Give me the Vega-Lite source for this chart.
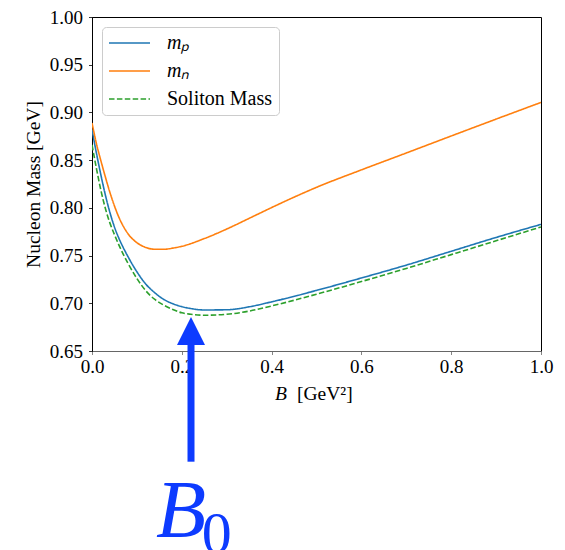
{
  "$schema": "https://vega.github.io/schema/vega-lite/v6.json",
  "autosize": {"type": "none"},
  "padding": {"left": 92, "top": 17, "right": 24, "bottom": 199},
  "width": 449,
  "height": 334,
  "config": {
    "view": {"stroke": "black", "strokeWidth": 1},
    "font": "Liberation Serif",
    "axis": {
      "grid": false,
      "labelFont": "Liberation Serif",
      "labelFontSize": 19,
      "labelColor": "black",
      "titleFont": "Liberation Serif",
      "titleFontSize": 19.5,
      "titleFontWeight": "normal",
      "titleColor": "black",
      "domainColor": "black",
      "tickColor": "black",
      "tickSize": 3.5,
      "tickWidth": 0.8
    }
  },
  "datasets": {
    "curves": [
      {"B": 0.00, "mass": 0.882, "series": "mₚ"},
      {"B": 0.01, "mass": 0.857, "series": "mₚ"},
      {"B": 0.02, "mass": 0.834, "series": "mₚ"},
      {"B": 0.03, "mass": 0.813, "series": "mₚ"},
      {"B": 0.04, "mass": 0.795, "series": "mₚ"},
      {"B": 0.05, "mass": 0.780, "series": "mₚ"},
      {"B": 0.06, "mass": 0.768, "series": "mₚ"},
      {"B": 0.07, "mass": 0.758, "series": "mₚ"},
      {"B": 0.08, "mass": 0.749, "series": "mₚ"},
      {"B": 0.10, "mass": 0.733, "series": "mₚ"},
      {"B": 0.12, "mass": 0.720, "series": "mₚ"},
      {"B": 0.14, "mass": 0.711, "series": "mₚ"},
      {"B": 0.16, "mass": 0.704, "series": "mₚ"},
      {"B": 0.18, "mass": 0.6995, "series": "mₚ"},
      {"B": 0.20, "mass": 0.6965, "series": "mₚ"},
      {"B": 0.22, "mass": 0.6945, "series": "mₚ"},
      {"B": 0.25, "mass": 0.693, "series": "mₚ"},
      {"B": 0.30, "mass": 0.6932, "series": "mₚ"},
      {"B": 0.35, "mass": 0.6963, "series": "mₚ"},
      {"B": 0.40, "mass": 0.7015, "series": "mₚ"},
      {"B": 0.50, "mass": 0.7135, "series": "mₚ"},
      {"B": 0.60, "mass": 0.7265, "series": "mₚ"},
      {"B": 0.70, "mass": 0.740, "series": "mₚ"},
      {"B": 0.80, "mass": 0.7545, "series": "mₚ"},
      {"B": 0.90, "mass": 0.769, "series": "mₚ"},
      {"B": 1.00, "mass": 0.7827, "series": "mₚ"},

      {"B": 0.00, "mass": 0.889, "series": "mₙ"},
      {"B": 0.01, "mass": 0.867, "series": "mₙ"},
      {"B": 0.02, "mass": 0.849, "series": "mₙ"},
      {"B": 0.03, "mass": 0.832, "series": "mₙ"},
      {"B": 0.04, "mass": 0.816, "series": "mₙ"},
      {"B": 0.05, "mass": 0.802, "series": "mₙ"},
      {"B": 0.06, "mass": 0.790, "series": "mₙ"},
      {"B": 0.07, "mass": 0.7805, "series": "mₙ"},
      {"B": 0.08, "mass": 0.773, "series": "mₙ"},
      {"B": 0.10, "mass": 0.7635, "series": "mₙ"},
      {"B": 0.12, "mass": 0.7585, "series": "mₙ"},
      {"B": 0.14, "mass": 0.7566, "series": "mₙ"},
      {"B": 0.16, "mass": 0.7566, "series": "mₙ"},
      {"B": 0.18, "mass": 0.7578, "series": "mₙ"},
      {"B": 0.20, "mass": 0.7597, "series": "mₙ"},
      {"B": 0.25, "mass": 0.7678, "series": "mₙ"},
      {"B": 0.30, "mass": 0.7778, "series": "mₙ"},
      {"B": 0.35, "mass": 0.789, "series": "mₙ"},
      {"B": 0.40, "mass": 0.8003, "series": "mₙ"},
      {"B": 0.45, "mass": 0.8112, "series": "mₙ"},
      {"B": 0.50, "mass": 0.8215, "series": "mₙ"},
      {"B": 0.60, "mass": 0.8398, "series": "mₙ"},
      {"B": 0.70, "mass": 0.8575, "series": "mₙ"},
      {"B": 0.80, "mass": 0.8753, "series": "mₙ"},
      {"B": 0.90, "mass": 0.893, "series": "mₙ"},
      {"B": 1.00, "mass": 0.9105, "series": "mₙ"},

      {"B": 0.00, "mass": 0.866, "series": "Soliton Mass"},
      {"B": 0.01, "mass": 0.841, "series": "Soliton Mass"},
      {"B": 0.02, "mass": 0.818, "series": "Soliton Mass"},
      {"B": 0.03, "mass": 0.799, "series": "Soliton Mass"},
      {"B": 0.04, "mass": 0.784, "series": "Soliton Mass"},
      {"B": 0.05, "mass": 0.772, "series": "Soliton Mass"},
      {"B": 0.06, "mass": 0.761, "series": "Soliton Mass"},
      {"B": 0.07, "mass": 0.751, "series": "Soliton Mass"},
      {"B": 0.08, "mass": 0.742, "series": "Soliton Mass"},
      {"B": 0.10, "mass": 0.726, "series": "Soliton Mass"},
      {"B": 0.12, "mass": 0.713, "series": "Soliton Mass"},
      {"B": 0.14, "mass": 0.704, "series": "Soliton Mass"},
      {"B": 0.16, "mass": 0.698, "series": "Soliton Mass"},
      {"B": 0.18, "mass": 0.6935, "series": "Soliton Mass"},
      {"B": 0.20, "mass": 0.690, "series": "Soliton Mass"},
      {"B": 0.22, "mass": 0.6885, "series": "Soliton Mass"},
      {"B": 0.25, "mass": 0.6875, "series": "Soliton Mass"},
      {"B": 0.30, "mass": 0.6885, "series": "Soliton Mass"},
      {"B": 0.35, "mass": 0.6918, "series": "Soliton Mass"},
      {"B": 0.40, "mass": 0.6972, "series": "Soliton Mass"},
      {"B": 0.50, "mass": 0.7095, "series": "Soliton Mass"},
      {"B": 0.60, "mass": 0.7228, "series": "Soliton Mass"},
      {"B": 0.70, "mass": 0.7365, "series": "Soliton Mass"},
      {"B": 0.80, "mass": 0.751, "series": "Soliton Mass"},
      {"B": 0.90, "mass": 0.7655, "series": "Soliton Mass"},
      {"B": 1.00, "mass": 0.780, "series": "Soliton Mass"}
    ]
  },
  "layer": [
    {
      "data": {"name": "curves"},
      "mark": {"type": "line", "interpolate": "monotone", "strokeWidth": 1.6, "clip": true},
      "encoding": {
        "x": {
          "field": "B", "type": "quantitative",
          "scale": {"domain": [0, 1], "nice": false, "zero": false},
          "axis": {
            "title": null, "values": [0, 0.2, 0.4, 0.6, 0.8, 1.0], "format": ".1f", "labelPadding": 3,
            "domainColor": "#666", "tickColor": "#666", "labelFlush": false,
            "encode": {"labels": {"update": {"font": {"value": "Liberation Serif"}, "fontSize": {"value": 19}}}}
          }
        },
        "y": {
          "field": "mass", "type": "quantitative",
          "scale": {"domain": [0.65, 1.0], "nice": false, "zero": false},
          "axis": {
            "title": "Nucleon Mass [GeV]", "values": [0.65, 0.70, 0.75, 0.80, 0.85, 0.90, 0.95, 1.00], "format": ".2f",
            "labelPadding": 6, "titlePadding": 6,
            "encode": {"labels": {"update": {"font": {"value": "Liberation Serif"}, "fontSize": {"value": 19}}}}
          }
        },
        "color": {
          "field": "series", "type": "nominal",
          "scale": {"domain": ["mₚ", "mₙ", "Soliton Mass"], "range": ["#1f77b4", "#ff7f0e", "#2ca02c"]},
          "legend": {
            "title": null,
            "orient": "top-left",
            "offset": 10,
            "padding": 6,
            "fillColor": "rgba(255,255,255,0.8)",
            "strokeColor": "#cccccc",
            "cornerRadius": 4,
            "symbolType": "M-1.8,0L6.4,0",
            "symbolSize": 100,
            "symbolStrokeWidth": 1.6,
            "symbolFillColor": "transparent",
            "labelFont": "Liberation Serif",
            "labelFontSize": 20,
            "labelColor": "black",
            "labelOffset": 39,
            "rowPadding": 8,
            "encode": {
              "labels": {"update": {"fontStyle": {"signal": "datum.label === 'Soliton Mass' ? 'normal' : 'italic'"}}}
            }
          }
        },
        "strokeDash": {
          "field": "series", "type": "nominal",
          "scale": {"domain": ["mₚ", "mₙ", "Soliton Mass"], "range": [[1, 0], [1, 0], [5.5, 2.4]]},
          "legend": {"title": null}
        },
        "order": {"field": "series", "sort": "descending"}
      }
    },
    {
      "data": {"values": [{"B0": 0.2205, "from": 0.534, "to": 0.658}]},
      "mark": {"type": "rule", "color": "#0d3bff", "strokeWidth": 7},
      "encoding": {
        "x": {"field": "B0", "type": "quantitative"},
        "y": {"field": "from", "type": "quantitative"},
        "y2": {"field": "to"}
      }
    },
    {
      "data": {"values": [{"B0": 0.2205, "head": 0.6709}]},
      "mark": {"type": "point", "shape": "M0,-1L1,1L-1,1Z", "size": 784, "filled": true, "color": "#0d3bff", "opacity": 1},
      "encoding": {
        "x": {"field": "B0", "type": "quantitative"},
        "y": {"field": "head", "type": "quantitative"}
      }
    },
    {
      "data": {"values": [{"label": "B", "px": 0.1425, "py": 0.4546}]},
      "mark": {"type": "text", "font": "Liberation Serif", "fontStyle": "italic", "fontSize": 82, "align": "left", "baseline": "alphabetic", "color": "#0d3bff"},
      "encoding": {
        "x": {"field": "px", "type": "quantitative"},
        "y": {"field": "py", "type": "quantitative"},
        "text": {"field": "label"}
      }
    },
    {
      "data": {"values": [{"label": "0", "px": 0.2445, "py": 0.4379}]},
      "mark": {"type": "text", "font": "Liberation Serif", "fontSize": 60, "align": "left", "baseline": "alphabetic", "color": "#0d3bff"},
      "encoding": {
        "x": {"field": "px", "type": "quantitative"},
        "y": {"field": "py", "type": "quantitative"},
        "text": {"field": "label"}
      }
    },
    {
      "data": {"values": [{"label": "B", "px": 0.4076, "py": 0.5988}]},
      "mark": {"type": "text", "font": "Liberation Serif", "fontStyle": "italic", "fontSize": 19.5, "align": "left", "baseline": "alphabetic", "color": "black"},
      "encoding": {
        "x": {"field": "px", "type": "quantitative"},
        "y": {"field": "py", "type": "quantitative"},
        "text": {"field": "label"}
      }
    },
    {
      "data": {"values": [{"label": "[GeV²]", "px": 0.4566, "py": 0.5988}]},
      "mark": {"type": "text", "font": "Liberation Serif", "fontSize": 19.5, "align": "left", "baseline": "alphabetic", "color": "black"},
      "encoding": {
        "x": {"field": "px", "type": "quantitative"},
        "y": {"field": "py", "type": "quantitative"},
        "text": {"field": "label"}
      }
    }
  ]
}
